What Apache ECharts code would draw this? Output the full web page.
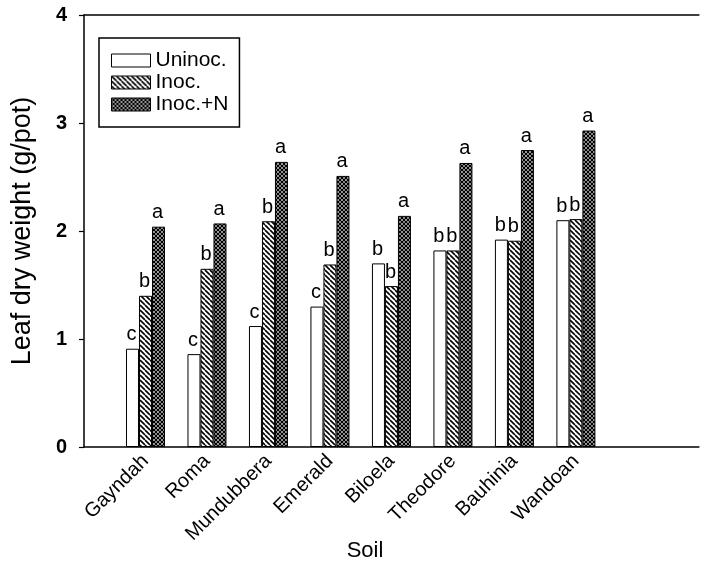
<!DOCTYPE html>
<html>
<head>
<meta charset="utf-8">
<script src="https://cdn.jsdelivr.net/npm/echarts@6/dist/echarts.min.js"></script>
<style>
html,body{margin:0;padding:0;background:#fff;}
#chart{width:701px;height:565px;}
</style>
</head>
<body>
<div id="chart"></div>
<script>
// ---- data ----
const soils = ['Gayndah', 'Roma', 'Mundubbera', 'Emerald', 'Biloela', 'Theodore', 'Bauhinia', 'Wandoan'];
const uninoc = [0.91, 0.86, 1.12, 1.30, 1.70, 1.82, 1.92, 2.10];
const inoc = [1.40, 1.65, 2.09, 1.69, 1.49, 1.82, 1.91, 2.11];
const inocN = [2.04, 2.07, 2.64, 2.51, 2.14, 2.63, 2.75, 2.93];
const lettersU = ['c', 'c', 'c', 'c', 'b', 'b', 'b', 'b'];
const lettersI = ['b', 'b', 'b', 'b', 'b', 'b', 'b', 'b'];
const lettersN = ['a', 'a', 'a', 'a', 'a', 'a', 'a', 'a'];
const yTicks = [0, 1, 2, 3, 4];
const seriesNames = ['Uninoc.', 'Inoc.', 'Inoc.+N'];

// padded category list (empty slot before and after the soils)
const cats = [''].concat(soils, ['', '']);
function pad(arr) { return [null].concat(arr, [null, null]); }
function padL(arr) { return [''].concat(arr, ['', '']); }

const FONT = '"Liberation Sans", Arial, Helvetica, sans-serif';

function hatch(dirs, size, lw) {
  const c = document.createElement('canvas');
  c.width = size; c.height = size;
  const g = c.getContext('2d');
  g.fillStyle = '#fff'; g.fillRect(0, 0, size, size);
  g.strokeStyle = '#000'; g.lineWidth = lw;
  dirs.forEach(function (d) {
    for (let k = -1; k <= 1; k++) {
      g.beginPath();
      if (d === '\\') { g.moveTo(k * size, 0); g.lineTo(k * size + size, size); }
      else { g.moveTo(k * size + size, 0); g.lineTo(k * size, size); }
      g.stroke();
    }
  });
  return c;
}
const patHatch = { image: hatch(['\\'], 5, 1.6), repeat: 'repeat' };
const patCross = { image: hatch(['\\', '/'], 4, 1.25), repeat: 'repeat' };

const chart = echarts.init(document.getElementById('chart'), null, { renderer: 'canvas' });

function barSeries(name, vals, letters, color) {
  const lab = padL(letters);
  return {
    name: name,
    type: 'bar',
    data: pad(vals),
    barWidth: 13,
    barGap: '0%',
    itemStyle: { color: color, borderColor: '#000', borderWidth: 1 },
    label: {
      show: true, position: 'top', distance: 4, offset: [-1, 0],
      color: '#000', fontFamily: FONT, fontSize: 20,
      formatter: function (p) { return lab[p.dataIndex] || ''; }
    },
    emphasis: { disabled: true },
    animation: false
  };
}

chart.setOption({
  animation: false,
  title: [{
    text: 'Soil', left: 365, top: 540, textAlign: 'center', padding: 0,
    textStyle: { fontFamily: FONT, fontSize: 22, fontWeight: 'normal', color: '#000' }
  }],
  legend: {
    data: seriesNames,
    orient: 'vertical',
    left: 99, top: 38,
    padding: [12, 11, 12, 12],
    itemWidth: 39, itemHeight: 13, itemGap: 1,
    borderColor: '#000', borderWidth: 1.5,
    icon: 'rect',
    itemStyle: { borderColor: '#000', borderWidth: 1 },
    textStyle: { fontFamily: FONT, fontSize: 21, color: '#000', padding: [0, 0, 0, 0] },
    selectedMode: false
  },
  grid: { left: 84, top: 15, width: 627, height: 432, containLabel: false },
  xAxis: [{
    type: 'category', data: cats, boundaryGap: false,
    axisLine: { show: true, lineStyle: { color: '#000', width: 1.5 } },
    axisTick: { show: false },
    axisLabel: {
      interval: 0, rotate: 45, margin: 11,
      fontFamily: FONT, fontSize: 20, color: '#000'
    },
    splitLine: { show: false }
  }, {
    type: 'category', data: cats, boundaryGap: false, position: 'top',
    axisLine: { show: true, lineStyle: { color: '#000', width: 1.5 } },
    axisTick: { show: false }, axisLabel: { show: false }, splitLine: { show: false }
  }],
  yAxis: {
    type: 'value', min: yTicks[0], max: yTicks[yTicks.length - 1], interval: 1,
    name: 'Leaf dry weight (g/pot)', nameLocation: 'middle', nameGap: 48,
    nameTextStyle: { fontFamily: FONT, fontSize: 27, color: '#000' },
    axisLine: { show: true, lineStyle: { color: '#000', width: 1.5 } },
    axisTick: { show: true, inside: false, length: 5, lineStyle: { color: '#000', width: 1.2 } },
    axisLabel: { margin: 17, fontFamily: FONT, fontSize: 20, fontWeight: 'bold', color: '#000' },
    splitLine: { show: false }
  },
  series: [
    barSeries(seriesNames[0], uninoc, lettersU, '#fff'),
    barSeries(seriesNames[1], inoc, lettersI, patHatch),
    barSeries(seriesNames[2], inocN, lettersN, patCross)
  ]
});
</script>
</body>
</html>
